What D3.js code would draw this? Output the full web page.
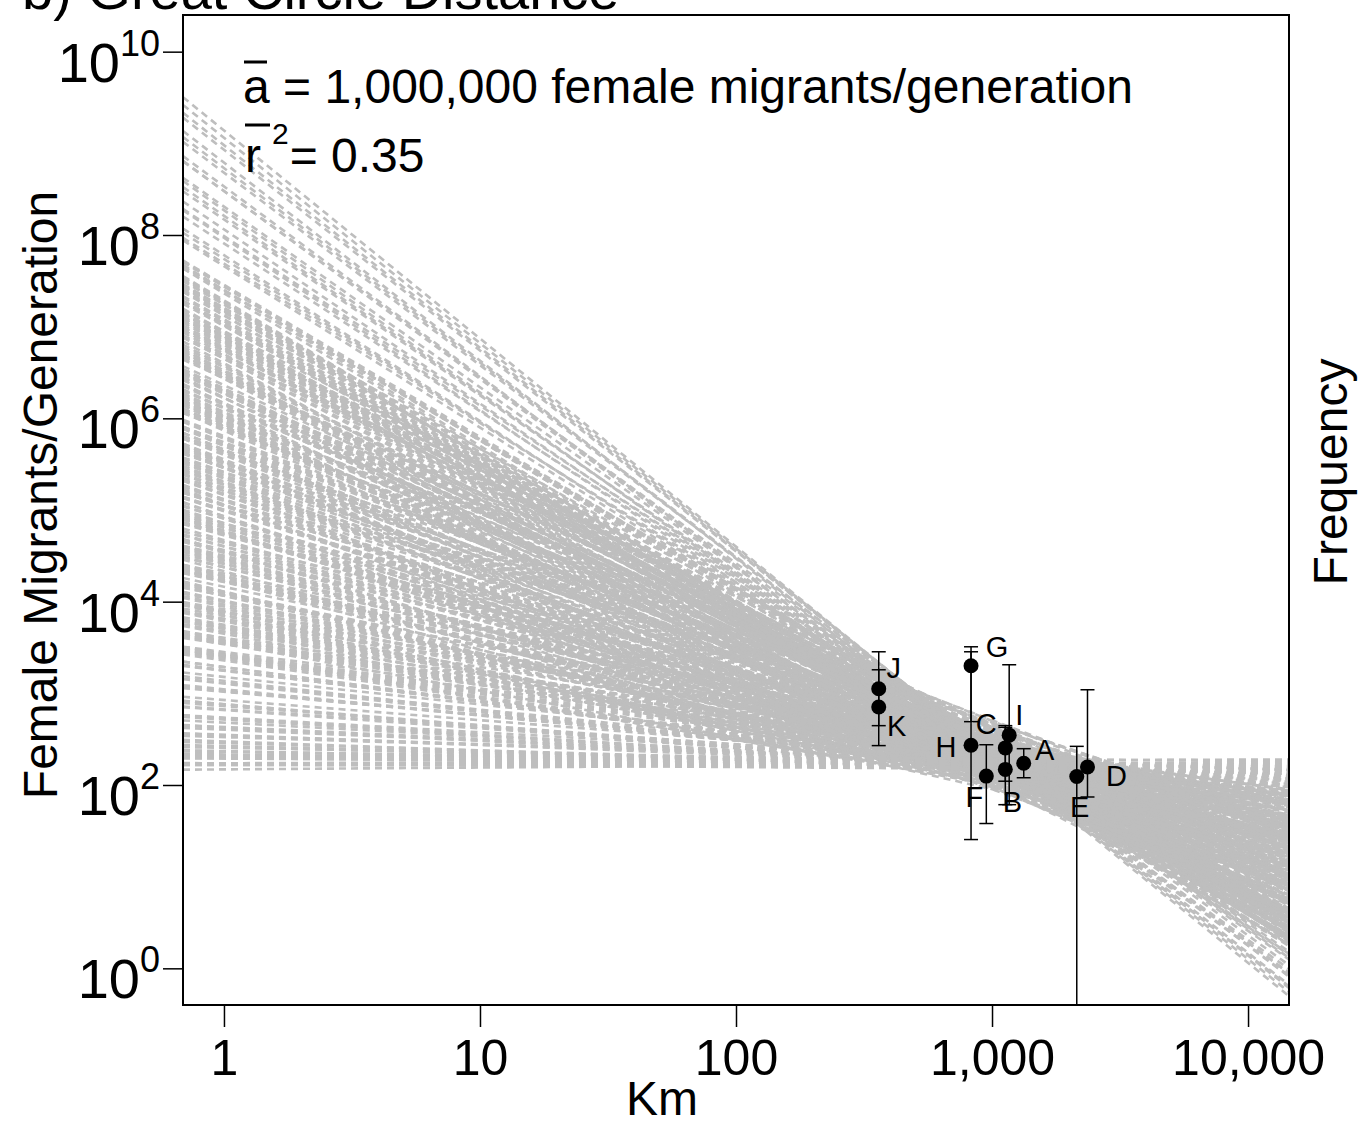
<!DOCTYPE html>
<html>
<head>
<meta charset="utf-8">
<script src="https://cdn.jsdelivr.net/npm/d3@7"></script>
<style>
  body { margin: 0; background: #ffffff; }
  text { font-family: "Liberation Sans", Arial, Helvetica, sans-serif; }
</style>
</head>
<body>
<div id="chart"></div>
<script>
// bootstrap regression lines: Nm = fitAt1000km * (km / 1000) ^ fitSlope
var fitSlope = [
  // steep
  -2.27, -2.24, -2.21, -2.19, -2.16, -2.12, -2.10, -2.07, -2.05, -2.03, -1.99, -1.97, -1.95, -1.92,
  -1.90, -1.88, -1.85, -1.83, -1.81, -1.78, -1.76, -1.74,
  // core
  -1.700, -1.695, -1.690, -1.685, -1.680, -1.675, -1.670, -1.665, -1.660, -1.655, -1.650, -1.645,
  -1.640, -1.635, -1.630, -1.625, -1.620, -1.615, -1.610, -1.605, -1.600, -1.595, -1.590, -1.585,
  -1.580, -1.575, -1.570, -1.565, -1.560, -1.555, -1.550, -1.545, -1.540, -1.535, -1.530, -1.525,
  -1.520, -1.515, -1.510, -1.505, -1.500,
  -1.495, -1.490, -1.485, -1.480, -1.475, -1.470, -1.465, -1.460, -1.455, -1.450, -1.445, -1.440,
  -1.435, -1.430, -1.425, -1.420, -1.415, -1.410, -1.405, -1.400, -1.395, -1.390, -1.385, -1.380,
  -1.375, -1.370, -1.365, -1.360, -1.355, -1.350, -1.345, -1.340, -1.335, -1.330, -1.325, -1.320,
  -1.315, -1.310, -1.305, -1.300, -1.295, -1.290, -1.285, -1.280, -1.275, -1.270, -1.265, -1.260,
  -1.255, -1.250, -1.245, -1.240, -1.235, -1.230, -1.225, -1.220, -1.215, -1.210, -1.205, -1.200,
  -1.195, -1.190, -1.185, -1.180, -1.175, -1.170, -1.165, -1.160, -1.155, -1.150, -1.145, -1.140,
  -1.135, -1.130, -1.125, -1.120, -1.115, -1.110, -1.105, -1.100, -1.095, -1.090, -1.085, -1.080,
  -1.075, -1.070, -1.065, -1.060, -1.055, -1.050, -1.045, -1.040, -1.035, -1.030, -1.025, -1.020,
  -1.015, -1.010, -1.005, -1.000, -0.995, -0.990, -0.985, -0.980, -0.975, -0.970, -0.965, -0.960,
  -0.955, -0.950, -0.945, -0.940, -0.935, -0.930, -0.925, -0.920, -0.915, -0.910, -0.905, -0.900,
  -0.895, -0.890, -0.885, -0.880, -0.875, -0.870, -0.865, -0.860, -0.855, -0.850, -0.845, -0.840,
  -0.835, -0.830, -0.825, -0.820, -0.815, -0.810, -0.805, -0.800,
  -0.795, -0.790, -0.785, -0.780, -0.775, -0.770, -0.765, -0.760, -0.755, -0.750, -0.745, -0.740,
  -0.735, -0.730, -0.725, -0.720, -0.715, -0.710, -0.705, -0.700, -0.695, -0.690, -0.685, -0.680,
  -0.675, -0.670, -0.665, -0.660, -0.655, -0.650, -0.645, -0.640, -0.635, -0.630, -0.625, -0.620,
  -0.615, -0.610, -0.605, -0.600, -0.595, -0.590, -0.585, -0.580, -0.575, -0.570, -0.565, -0.560,
  -0.555, -0.550, -0.545, -0.540, -0.535, -0.530, -0.525, -0.520, -0.515, -0.510, -0.505, -0.500,
  -0.495, -0.490, -0.485, -0.480, -0.475, -0.470, -0.465, -0.460, -0.455, -0.450, -0.445, -0.440,
  -0.435, -0.430, -0.425, -0.420, -0.415, -0.410, -0.405, -0.400, -0.395, -0.390, -0.385, -0.380,
  -0.375, -0.370, -0.365, -0.360,
  // nearly flat
  -0.35, -0.34, -0.33, -0.32, -0.31, -0.30, -0.29, -0.28, -0.27, -0.26, -0.25, -0.24, -0.23, -0.22,
  -0.21, -0.20, -0.19, -0.18, -0.17, -0.16, -0.15, -0.14, -0.13, -0.12, -0.11, -0.10, -0.09, -0.085,
  -0.08, -0.07, -0.065, -0.06, -0.05, -0.045, -0.04, -0.035, -0.03, -0.025, -0.02, -0.015, -0.01,
  -0.005, 0.00, 0.00, 0.01, 0.02
];
var fitAt1000km = [
  214, 219, 224, 229, 204, 234, 240, 209, 214, 245, 200, 251, 229, 257,
  230, 214, 275, 262, 224, 251, 240, 295,
  200, 190, 160, 245, 250, 165, 178, 280, 300, 210, 150, 175,
  224, 310, 190, 200, 340, 230, 170, 160, 210, 260, 265, 185, 155, 330,
  235, 215, 185, 170, 320, 250, 165, 195, 205, 290, 280, 180, 175, 220,
  240,
  230, 190, 140, 120, 310, 260, 180, 210, 250, 400, 125, 150, 370, 230,
  200, 105, 165, 320, 290, 175, 110, 200, 220, 140, 410, 280, 150, 240,
  260, 430, 190, 160, 330, 215, 135, 115, 240, 350, 175, 185, 300, 250,
  120, 130, 210, 300, 440, 195, 160, 170, 270, 380, 145, 225, 350, 110,
  185, 270, 225, 205,
  200, 240, 95, 130, 300, 330, 160, 175, 450, 460, 220, 110, 130, 260,
  260, 200, 180, 380, 500, 150, 115, 290, 240, 95, 190, 220, 350, 510,
  140, 165, 210, 310, 90, 120, 280, 250, 170, 185, 420, 430, 230, 140,
  125, 275, 310, 105, 185, 230, 150, 360, 480, 190, 205, 470, 100, 125,
  270, 300, 165, 160, 390, 215, 215, 400, 135, 145, 250, 265, 175, 180,
  330, 340, 110, 115, 195, 235, 290, 200, 155, 285,
  180, 200, 95, 120, 250, 270, 150, 160, 300, 95, 200, 240, 120, 185,
  230, 310, 170, 140, 280, 220, 105, 110, 210, 290, 160, 170, 260, 250,
  135, 130, 190, 205, 90, 100, 240, 260, 175, 150, 310, 230, 145, 175,
  220, 300, 115, 125, 200, 195, 165, 145, 270, 280, 125, 115, 185, 215,
  100, 165, 235, 245, 155, 135, 290, 190, 140, 105, 205, 270, 110, 155,
  250, 225, 170, 180, 195, 210, 130, 140, 225, 255, 160, 170, 180, 195,
  145, 150, 210, 235,
  160, 170, 180, 150, 150, 190, 175, 160, 165, 175, 185, 145, 155, 185,
  170, 165, 180, 155, 160, 180, 170, 160, 175, 175, 165, 150, 185, 185,
  165, 160, 170, 155, 180, 170, 160, 180, 175, 165, 150, 175, 190, 160,
  170, 165, 185, 170
];

// sampled populations with error bars
var siteLabel = ["A", "B", "C", "D", "E", "F", "G", "H", "I", "J", "K"];
var siteKm    = [1330, 1127, 1127, 2360, 2143, 950, 828, 828, 1167, 361, 361];
var siteNm    = [173, 148, 254, 157, 124, 125, 2000, 271, 350, 1122, 709];
var siteLow   = [120, 61, 110, 74, 0.01, 38, 491, 25.4, 61, 444, 269];
var siteHigh  = [249, 425, 444, 1094, 264, 275, 3220, 2840, 2050, 2840, 1807];

var xTicks = [1, 10, 100, 1000, 10000];
var xTickLabels = ["1", "10", "100", "1,000", "10,000"];
var yTickExp = [0, 2, 4, 6, 8, 10];

var W = 1360, H = 1125;
var plot = { left: 183, right: 1289, top: 15, bottom: 1005 };

var svg = d3.select("#chart").append("svg")
  .attr("width", W)
  .attr("height", H);

// log scales, 4% padding like the original
var x = d3.scaleLog()
  .domain([Math.pow(10, -0.16), Math.pow(10, 4.16)])
  .range([plot.left, plot.right]);
var y = d3.scaleLog()
  .domain([Math.pow(10, -0.4), Math.pow(10, 10.4)])
  .range([plot.bottom, plot.top]);

svg.append("clipPath").attr("id", "clip")
  .append("rect")
  .attr("x", plot.left).attr("y", plot.top)
  .attr("width", plot.right - plot.left)
  .attr("height", plot.bottom - plot.top);

// title, mostly cut off at the top
svg.append("text")
  .attr("x", 22)
  .attr("y", 9)
  .attr("font-size", 56)
  .text("b) Great Circle Distance");

// gray dashed regression lines
var fits = fitSlope.map(function(b, i) { return { b: b, n: fitAt1000km[i] }; });
var fitLine = d3.line()
  .x(function(d) { return x(d[0]); })
  .y(function(d) { return y(d[1]); });
var xd = x.domain();

svg.append("g")
  .attr("clip-path", "url(#clip)")
  .selectAll("path")
  .data(fits)
  .enter()
  .append("path")
  .attr("d", function(d) {
    return fitLine(xd.map(function(k) { return [k, d.n * Math.pow(k / 1000, d.b)]; }));
  })
  .attr("fill", "none")
  .attr("stroke", "#bebebe")
  .attr("stroke-width", 2.6)
  .attr("stroke-dasharray", "7,5");

// error bars
var sites = siteLabel.map(function(s, i) {
  return { name: s, km: siteKm[i], nm: siteNm[i], lo: siteLow[i], hi: siteHigh[i] };
});
var bars = svg.append("g").attr("clip-path", "url(#clip)");
var cap = 7;
sites.forEach(function(d) {
  var cx = x(d.km);
  bars.append("line")
    .attr("x1", cx).attr("x2", cx)
    .attr("y1", y(d.lo)).attr("y2", y(d.hi))
    .attr("stroke", "#000").attr("stroke-width", 1.5);
  [d.lo, d.hi].forEach(function(v) {
    bars.append("line")
      .attr("x1", cx - cap).attr("x2", cx + cap)
      .attr("y1", y(v)).attr("y2", y(v))
      .attr("stroke", "#000").attr("stroke-width", 1.5);
  });
});

// points
svg.append("g")
  .selectAll("circle")
  .data(sites)
  .enter()
  .append("circle")
  .attr("cx", function(d) { return x(d.km); })
  .attr("cy", function(d) { return y(d.nm); })
  .attr("r", 7.5)
  .attr("fill", "#000");

// point labels, nudged like the original
var nudge = {
  A: [21, -13], B: [7, 33], C: [-19, -24], D: [29, 9], E: [3, 31], F: [-12, 21],
  G: [26, -19], H: [-25, 2], I: [10, -20], J: [15, -21], K: [18, 19]
};
svg.append("g")
  .selectAll("text")
  .data(sites)
  .enter()
  .append("text")
  .attr("x", function(d) { return x(d.km) + nudge[d.name][0]; })
  .attr("y", function(d) { return y(d.nm) + nudge[d.name][1] + 10; })
  .attr("text-anchor", "middle")
  .attr("font-size", 29)
  .text(function(d) { return d.name; });

// box
svg.append("rect")
  .attr("x", plot.left).attr("y", plot.top)
  .attr("width", plot.right - plot.left)
  .attr("height", plot.bottom - plot.top)
  .attr("fill", "none")
  .attr("stroke", "#000")
  .attr("stroke-width", 2);

// x axis
var xAxis = svg.append("g")
  .attr("transform", "translate(0," + plot.bottom + ")")
  .call(d3.axisBottom(x).tickValues(xTicks)
    .tickFormat(function(d, i) { return xTickLabels[i]; })
    .tickSize(22).tickPadding(12));
xAxis.select(".domain").remove();
xAxis.selectAll("line").attr("stroke-width", 1.5);
xAxis.selectAll("text")
  .attr("font-size", 50)
  .attr("font-family", "'Liberation Sans', Arial, sans-serif")
  .attr("fill", "#000");

// y axis with 10^n labels
var yAxis = svg.append("g")
  .attr("transform", "translate(" + plot.left + ",0)")
  .call(d3.axisLeft(y).tickValues(yTickExp.map(function(e) { return Math.pow(10, e); }))
    .tickFormat("").tickSize(20));
yAxis.select(".domain").remove();
yAxis.selectAll("line").attr("stroke-width", 1.5);

var yLab = svg.append("g")
  .selectAll("text")
  .data(yTickExp)
  .enter()
  .append("text")
  .attr("x", 160)
  .attr("y", function(e) { return y(Math.pow(10, e)) + 30; })
  .attr("text-anchor", "end")
  .attr("font-size", 56);
yLab.append("tspan").text("10");
yLab.append("tspan")
  .attr("dy", -26)
  .attr("font-size", 36)
  .text(function(e) { return e; });

// axis titles
svg.append("text")
  .attr("x", 662)
  .attr("y", 1115)
  .attr("text-anchor", "middle")
  .attr("font-size", 48)
  .text("Km");

svg.append("text")
  .attr("transform", "translate(57,495) rotate(-90)")
  .attr("text-anchor", "middle")
  .attr("font-size", 48)
  .text("Female Migrants/Generation");

svg.append("text")
  .attr("transform", "translate(1347,472) rotate(-90)")
  .attr("text-anchor", "middle")
  .attr("font-size", 48)
  .text("Frequency");

// fit summary
svg.append("text")
  .attr("x", 243)
  .attr("y", 103)
  .attr("font-size", 48)
  .text("a = 1,000,000 female migrants/generation");
svg.append("line")
  .attr("x1", 244).attr("x2", 267)
  .attr("y1", 62).attr("y2", 62)
  .attr("stroke", "#000").attr("stroke-width", 3);

var r2 = svg.append("text")
  .attr("x", 245)
  .attr("y", 172)
  .attr("font-size", 48);
r2.append("tspan").text("r");
r2.append("tspan").attr("dx", 11).attr("dy", -28).attr("font-size", 30).text("2");
r2.append("tspan").attr("dy", 28).attr("dx", 1).text("= 0.35");
svg.append("line")
  .attr("x1", 245).attr("x2", 270)
  .attr("y1", 125).attr("y2", 125)
  .attr("stroke", "#000").attr("stroke-width", 3);
</script>
</body>
</html>
